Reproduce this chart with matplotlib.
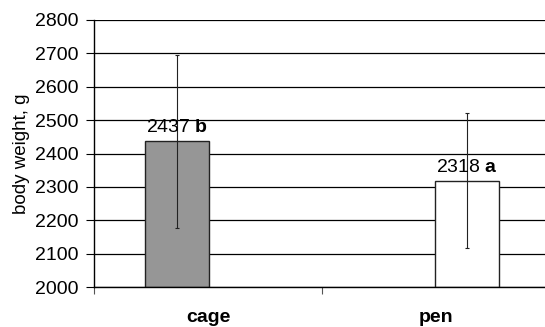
import numpy as np
import matplotlib
matplotlib.use("Agg")
import matplotlib.pyplot as plt

plt.rcParams['font.family'] = ['Liberation Sans', 'DejaVu Sans']
plt.rcParams['mathtext.fontset'] = 'custom'
plt.rcParams['mathtext.rm'] = 'Liberation Sans'
plt.rcParams['mathtext.bf'] = 'Liberation Sans:bold'

groups = ['cage', 'pen']
weights = [2437, 2318]
sd = [259, 202]
letters = ['b', 'a']
colors = ['#969696', 'white']

bar_w = 0.28
offsets = [-0.135, 0.135]

fig = plt.figure(figsize=(5.45, 3.27), dpi=100)
ax = fig.add_axes([94 / 545, 1 - 287 / 327, 1 - 94 / 545, (287 - 20) / 327])

for i, (w, s, let, c) in enumerate(zip(weights, sd, letters, colors)):
    x = i + offsets[i]
    ax.bar(x, w - 2000, bottom=2000, width=bar_w, color=c, edgecolor='#222222',
           linewidth=1, zorder=2)
    ax.errorbar(x, w, yerr=s, fmt='none', ecolor='#222222', elinewidth=0.8,
                capsize=1.5, capthick=0.8, zorder=3)
    ax.text(x, w + 26, f'{w} $\\mathbf{{{let}}}$', ha='center', va='baseline',
            fontsize=14, zorder=4)

ax.set_ylim(2000, 2800)
ax.set_xlim(-0.5, 1.478)
ax.set_yticks(np.arange(2000, 2801, 100))
ax.yaxis.grid(True, color='black', linewidth=0.9, zorder=0)
ax.set_axisbelow(True)

# category labels centred, divider ticks between categories
ax.set_xticks([-0.5, 0.5])
ax.set_xticklabels([])
ax.set_xticks([0.0, 1.0], minor=True)
ax.set_xticklabels(groups, minor=True, fontweight='bold', fontsize=14)
ax.tick_params(axis='x', which='minor', length=0, pad=16)
ax.tick_params(axis='x', which='major', length=5, width=0.8, color='#555555')
ax.tick_params(axis='y', length=6, width=0.8, labelsize=14, pad=5)

ax.set_ylabel('body weight, g', fontsize=13.5, labelpad=4)

for side in ['top', 'right']:
    ax.spines[side].set_visible(False)
ax.spines['left'].set_linewidth(1)
ax.spines['bottom'].set_linewidth(1)

fig.savefig('out.png', dpi=100)
